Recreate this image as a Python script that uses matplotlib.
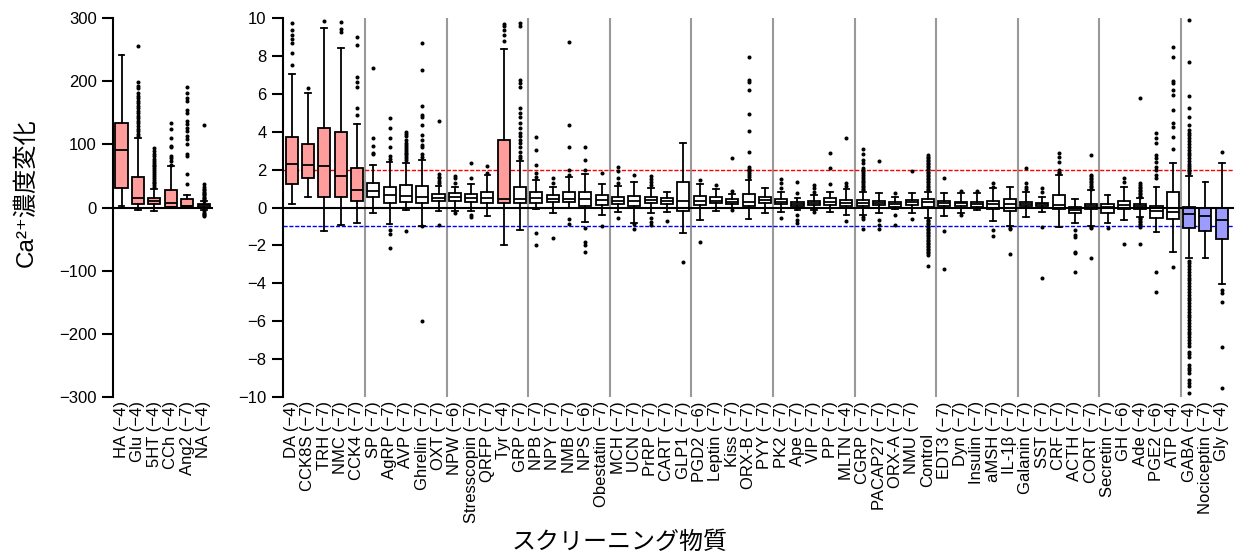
import matplotlib
matplotlib.use("Agg")
import matplotlib.pyplot as plt

plt.rcParams['font.family'] = ['Liberation Sans', 'DejaVu Sans']

# --- classical transmitters (left panel, scale +-300) ---
LEFT_NAMES = ["HA", "Glu", "5HT", "CCh", "Ang2", "NA"]
LEFT_CONC = [-4, -4, -4, -4, -7, -4]
LEFT_Q1 = [30.5, 6.3, 5.3, 1.0, 1.6, 1.0]
LEFT_MED = [91, 15.8, 10, 7.4, 2.6, 3.2]
LEFT_Q3 = [133, 48.4, 15.3, 28, 13, 5.3]
LEFT_WLO = [1.6, -3.7, -5.3, 1.0, 1.6, -4.2]
LEFT_WHI = [242, 109.5, 29, 66, 20.5, 10.5]
LEFT_FLIERS = [
    [],
    [113, 117, 121, 125, 129, 133, 137, 141, 145, 149, 153, 157, 161, 165,
     169, 173, 177, 181, 189, 192, 198, 255],
    [32, 35, 38, 41, 44, 47, 50, 53, 56, 59, 62, 65, 68, 71, 74, 77, 81, 85,
     89, 94],
    [68, 74, 79, 82, 95, 97, 110, 124, 133],
    [37, 53, 82, 84, 100, 108, 113, 121, 126, 132, 137, 150, 155, 168, 174,
     182, 190],
    [11, 13, 15, 17, 19, 21, 23, 25, 27, 29, 32, 37, 130, -6, -8, -10, -12,
     -13],
]

# --- screening compounds (right panel, scale +-10) ---
RIGHT_NAMES = [
    "DA", "CCK8S", "TRH", "NMC", "CCK4", "SP", "AgRP", "AVP", "Ghrelin", "OXT",
    "NPW", "Stresscopin", "QRFP", "Tyr", "GRP", "NPB", "NPY", "NMB", "NPS",
    "Obestatin", "MCH", "UCN", "PrRP", "CART", "GLP1", "PGD2", "Leptin", "Kiss",
    "ORX-B", "PYY", "PK2", "Ape", "VIP", "PP", "MLTN", "CGRP", "PACAP27",
    "ORX-A", "NMU", "Control", "EDT3", "Dyn", "Insulin", "aMSH", "IL-1β",
    "Galanin", "SST", "CRF", "ACTH", "CORT", "Secretin", "GH", "Ade", "PGE2",
    "ATP", "GABA", "Nociceptin", "Gly",
]
RIGHT_CONC = [
    -4, -7, -7, -7, -7, -7, -7, -7, -7, -7,
    -6, -7, -7, -4, -7, -7, -7, -7, -6, -7,
    -7, -7, -7, -7, -7, -6, -7, -7, -7, -7,
    -7, -7, -7, -7, -4, -7, -7, -7, -7, None,
    -7, -7, -7, -7, -7, -7, -7, -7, -7, -7,
    -7, -6, -4, -6, -4, -4, -7, -4,
]
RIGHT_Q1 = [
    1.22, 1.56, 0.55, 0.55, 0.36, 0.54, 0.22, 0.31, 0.22, 0.34,
    0.33, 0.29, 0.26, 0.26, 0.22, 0.26, 0.29, 0.27, 0.08, 0.13,
    0.17, 0.08, 0.22, 0.18, -0.18, 0.13, 0.22, 0.20, 0.10, 0.22,
    0.17, 0.08, 0.13, 0.13, 0.08, 0.08, 0.11, 0.03, 0.13, 0.04,
    0.08, 0.08, 0.04, -0.10, -0.18, 0.08, 0.08, -0.10, -0.31, -0.08,
    -0.27, -0.10, -0.06, -0.57, -0.62, -1.10, -1.24, -1.68,
]
RIGHT_MED = [
    2.30, 2.24, 2.21, 1.68, 0.92, 0.89, 0.68, 0.59, 0.55, 0.52,
    0.55, 0.52, 0.50, 0.45, 0.45, 0.50, 0.47, 0.43, 0.47, 0.40,
    0.34, 0.33, 0.38, 0.33, 0.36, 0.36, 0.36, 0.31, 0.27, 0.40,
    0.29, 0.18, 0.26, 0.31, 0.26, 0.26, 0.26, 0.17, 0.27, 0.27,
    0.26, 0.22, 0.18, 0.18, 0.17, 0.18, 0.17, 0.13, -0.13, 0.08,
    0.01, 0.13, 0.08, -0.18, -0.22, -0.34, -0.43, -0.66,
]
RIGHT_Q3 = [
    3.73, 3.36, 4.18, 3.99, 2.07, 1.28, 1.10, 1.20, 1.15, 0.69,
    0.78, 0.69, 0.80, 3.56, 1.10, 0.80, 0.66, 0.80, 0.80, 0.66,
    0.57, 0.61, 0.54, 0.48, 1.36, 0.62, 0.54, 0.43, 0.71, 0.57,
    0.43, 0.31, 0.36, 0.48, 0.40, 0.38, 0.34, 0.29, 0.40, 0.43,
    0.36, 0.31, 0.31, 0.36, 0.43, 0.31, 0.26, 0.66, 0.01, 0.17,
    0.18, 0.36, 0.18, 0.10, 0.80, 0.04, 0.00, -0.04,
]
RIGHT_WLO = [
    0.17, 0.55, -1.26, -0.92, -0.80, -0.31, -0.85, -0.13, -0.96, -0.18,
    -0.18, -0.18, -0.43, -1.96, -1.19, -0.10, -0.31, -0.04, -0.75, -0.41,
    -0.24, -0.80, -0.27, -0.24, -1.36, -0.66, -0.18, -0.04, -0.61, -0.27,
    -0.22, -0.13, -0.13, -0.22, -0.40, -0.40, -0.27, -0.10, -0.27, -0.57,
    -0.45, -0.31, -0.13, -0.69, -0.98, -0.48, -0.22, -1.01, -0.80, -0.98,
    -0.80, -0.66, -0.48, -1.28, -2.33, -2.68, -2.68, -4.04,
]
RIGHT_WHI = [
    7.06, 6.04, 9.47, 8.42, 4.41, 2.23, 2.40, 2.37, 2.49, 1.12,
    1.10, 1.26, 1.71, 8.35, 2.47, 1.45, 1.10, 1.63, 1.77, 1.24,
    1.13, 1.36, 1.03, 0.83, 3.39, 1.22, 0.99, 0.69, 1.45, 1.05,
    0.83, 0.48, 0.66, 0.80, 0.96, 0.83, 0.75, 0.57, 0.75, 0.83,
    0.75, 0.75, 0.75, 1.01, 1.10, 0.83, 0.57, 1.71, 0.45, 0.92,
    0.66, 1.10, 0.48, 1.10, 2.36, 1.68, 1.33, 2.33,
]
RIGHT_FLIERS = [
    [7.5, 8.15, 8.68, 8.9, 9.1, 9.38, 9.76],                         # DA
    [6.31],                                                           # CCK8S
    [9.86],                                                           # TRH
    [9.28, 9.4, 9.77],                                                # NMC
    [4.89, 5.24, 6.38, 6.64, 6.87, 8.58, 8.98],                       # CCK4
    [2.8, 2.86, 3.27, 3.65, 7.35],                                    # SP
    [2.55, 2.72, 3.2, 3.65, 4.2, 4.7, -1.21, -1.38, -2.12],           # AgRP
    [2.5, 2.6, 2.7, 2.8, 2.9, 3.0, 3.1, 3.2, 3.3, 3.4, 3.57, 3.75,
     3.88, 4.0, -1.24],                                               # AVP
    [2.69, 2.83, 3.2, 3.3, 3.57, 3.83, 4.36, 4.76, 4.88, 5.36, 7.26,
     8.7, -0.98, -6.0],                                               # Ghrelin
    [1.28, 1.42, 1.55, 1.63, 1.75, 4.58, -0.92],                      # OXT
    [1.3, 1.56, 1.66, -0.31],                                         # NPW
    [1.57, 2.33, -0.4, -0.48],                                        # Stresscopin
    [1.8, 2.2],                                                       # QRFP
    [8.76, 9.12, 9.38, 9.56, 9.7],                                    # Tyr
    [2.6, 2.72, 2.95, 3.21, 3.4, 3.56, 3.75, 3.91, 4.18, 4.44, 4.8,
     4.97, 5.24, 6.35, 6.56, 6.73, 9.56, 9.74],                       # GRP
    [1.6, 1.8, 2.25, 3.05, 3.72, -1.36, -1.98],                       # NPB
    [1.28, 1.54, -1.63],                                              # NPY
    [1.7, 1.98, 3.2, 4.35, 8.72, -0.6, -0.87],                        # NMB
    [2.0, 2.5, 3.17, -1.1, -1.8, -1.98, -2.33],                       # NPS
    [1.8, -0.98],                                                     # Obestatin
    [1.28, 1.54, 1.94, 2.12, -0.57],                                  # MCH
    [1.71, -0.89, -1.13],                                             # UCN
    [1.19, 1.36, 1.49, 1.68, -0.57, -0.78, -0.92],                    # PrRP
    [-0.69],                                                          # CART
    [-2.89],                                                          # GLP1
    [1.45, -1.8],                                                     # PGD2
    [1.17],                                                           # Leptin
    [0.87, 2.6, -0.13],                                               # Kiss
    [1.63, 1.72, 1.8, 1.9, 1.98, 2.05, 2.15, 2.95, 4.06, 4.92, 6.2,
     6.64, 6.73, 7.96],                                               # ORX-B
    [],                                                               # PYY
    [1.05, 1.28, 1.49, -0.57],                                        # PK2
    [0.75, 1.33, -0.4, -0.66, -0.84],                                 # Ape
    [0.84, 1.01, 1.19, -0.22],                                        # VIP
    [1.22, 2.07, 2.89],                                               # PP
    [1.13, 1.28, 3.69, -0.71],                                        # MLTN
    [0.92, 1.0, 1.08, 1.16, 1.24, 1.32, 1.4, 1.5, 1.6, 1.7, 1.8, 1.9,
     2.0, 2.1, 2.33, 2.5, 2.8, 3.09, -0.5, -0.6, -1.13],              # CGRP
    [2.46, -0.66, -0.92, -1.13],                                      # PACAP27
    [0.75, -0.4, -0.92],                                              # ORX-A
    [1.95, -0.61],                                                    # NMU
    [0.92, 1.0, 1.08, 1.16, 1.24, 1.32, 1.4, 1.48, 1.56, 1.64, 1.72,
     1.8, 1.88, 1.96, 2.04, 2.12, 2.2, 2.28, 2.36, 2.44, 2.52, 2.6,
     2.68, 2.77, -0.65, -0.73, -0.81, -0.89, -0.97, -1.05, -1.13,
     -1.21, -1.29, -1.37, -1.45, -1.53, -1.61, -1.69, -1.77, -1.85,
     -1.93, -2.01, -2.09, -2.17, -2.25, -2.33, -2.41, -2.5, -3.09],   # Control
    [1.54, -1.24, -3.27],                                             # EDT3
    [0.85, -0.4],                                                     # Dyn
    [0.85],                                                           # Insulin
    [1.1, 1.28, -1.19, -1.5],                                         # aMSH
    [-1.06, -1.15, -2.47],                                            # IL-1b
    [0.95, 1.1, 1.31, 2.07],                                          # Galanin
    [0.84, 1.01, -1.01, -3.74],                                       # SST
    [1.8, 1.88, 1.96, 2.42, 2.68, 2.89],                              # CRF
    [-1.19, -1.45, -1.54, -2.33, -2.38, -3.39],                       # ACTH
    [1.0, 1.08, 1.16, 1.24, 1.32, 1.4, 1.48, 1.56, 1.64, 1.72, 2.77,
     -1.05, -1.1, -2.65],                                             # CORT
    [-1.06],                                                          # Secretin
    [1.36, 1.57, -1.94],                                              # GH
    [0.55, 0.62, 0.7, 0.78, 0.86, 0.94, 1.02, 1.1, 1.2, 1.3, 5.76,
     -0.55, -0.62, -0.7, -0.78, -0.86, -0.94, -1.02, -1.94],          # Ade
    [1.54, 1.72, 1.98, 2.16, 2.42, 2.6, 2.77, 3.39, 3.65, 3.91,
     -3.39, -4.44],                                                   # PGE2
    [3.09, 3.74, 4.27, 4.44, 5.15, 5.94, 6.2, 6.56, 6.68, 7.96, 8.49,
     -3.12],                                                          # ATP
    [1.8, 1.9, 2.0, 2.1, 2.2, 2.3, 2.45, 2.6, 2.75, 2.9, 3.05, 3.2,
     3.35, 3.5, 3.65, 3.8, 3.95, 4.1, 4.36, 4.8, 5.24, 5.86, 7.7, 9.9,
     -2.8, -2.95, -3.1, -3.25, -3.4, -3.55, -3.7, -3.85, -4.0, -4.15,
     -4.3, -4.45, -4.6, -4.75, -4.9, -5.05, -5.2, -5.35, -5.5, -5.65,
     -5.8, -5.95, -6.1, -6.25, -6.4, -6.55, -6.7, -6.85, -7.0, -7.15,
     -7.3, -7.6, -7.75, -7.9, -8.3, -8.45, -8.6, -8.75, -9.1, -9.25,
     -9.4, -9.8],                                                     # GABA
    [],                                                               # Nociceptin
    [2.95, -4.36, -4.49, -4.97, -7.35, -9.5],                         # Gly
]

UP_RESPONDERS = {"HA", "Glu", "5HT", "CCh", "Ang2", "NA",
                 "DA", "CCK8S", "TRH", "NMC", "CCK4", "Tyr"}
DOWN_RESPONDERS = {"GABA", "Nociceptin", "Gly"}
UP_COLOR = "#ff9c9c"
DOWN_COLOR = "#9c9cff"

JP_FONT = ['Noto Sans CJK JP', 'DejaVu Sans']
LABEL_FONT = ['Liberation Sans', 'Noto Sans CJK JP', 'DejaVu Sans']
TICK_FS = 12


def tick_label(name, conc):
    # unlabelled concentration (control) is written separately, see below
    if conc is None:
        return ""
    return f"{name} (\u2212{abs(conc)})"


def draw_boxes(ax, names, conc, q1, med, q3, wlo, whi, fliers):
    stats = [dict(q1=a, med=b, q3=c, whislo=d, whishi=e, fliers=f)
             for a, b, c, d, e, f in zip(q1, med, q3, wlo, whi, fliers)]
    pos = list(range(1, len(names) + 1))
    line = dict(color="black", linewidth=1.3)
    bp = ax.bxp(stats, positions=pos, widths=0.74, capwidths=0.36,
                patch_artist=True, manage_ticks=False,
                boxprops=dict(edgecolor="black", linewidth=1.3),
                medianprops=line, whiskerprops=line, capprops=line,
                flierprops=dict(marker="o", markersize=1.9, markerfacecolor="black",
                                markeredgecolor="black", linestyle="none"),
                zorder=2)
    for patch, n in zip(bp["boxes"], names):
        if n in UP_RESPONDERS:
            patch.set_facecolor(UP_COLOR)
        elif n in DOWN_RESPONDERS:
            patch.set_facecolor(DOWN_COLOR)
        else:
            patch.set_facecolor("white")

    ax.axhline(0, color="black", linewidth=1.5, zorder=3)
    ax.set_xticks(pos)
    ax.set_xticklabels([tick_label(n, c) for n, c in zip(names, conc)],
                       rotation=90, va="top", ha="center", fontsize=TICK_FS)
    ax.tick_params(axis="x", length=0, pad=3)
    ax.tick_params(axis="y", length=8, width=1.5, labelsize=12, pad=4)
    for s in ("top", "right", "bottom"):
        ax.spines[s].set_visible(False)
    ax.spines["left"].set_linewidth(1.5)

    # names without a concentration sit lower, aligned with the other names
    for p, n, c in zip(pos, names, conc):
        if c is None:
            ax.annotate(n, xy=(p, 0), xycoords=ax.get_xaxis_transform(),
                        xytext=(0, -26), textcoords="offset points",
                        rotation=90, va="top", ha="center", fontsize=TICK_FS)


fig = plt.figure(figsize=(12.34, 5.59), dpi=100)

ax_l = fig.add_axes([0.0918, 0.2898, 0.0806, 0.678])
draw_boxes(ax_l, LEFT_NAMES, LEFT_CONC, LEFT_Q1, LEFT_MED, LEFT_Q3,
           LEFT_WLO, LEFT_WHI, LEFT_FLIERS)
ax_l.set_xlim(0.5, 6.55)
ax_l.set_ylim(-300, 300)
ax_l.set_yticks(range(-300, 301, 100))

ax_r = fig.add_axes([0.2296, 0.2898, 0.7704, 0.678])
draw_boxes(ax_r, RIGHT_NAMES, RIGHT_CONC, RIGHT_Q1, RIGHT_MED, RIGHT_Q3,
           RIGHT_WLO, RIGHT_WHI, RIGHT_FLIERS)
ax_r.set_xlim(0.49, 58.75)
ax_r.set_ylim(-10, 10)
ax_r.set_yticks(range(-10, 11, 2))

# group separators every five compounds
for x in range(5, len(RIGHT_NAMES), 5):
    ax_r.axvline(x + 0.5, color="#999999", linewidth=1.5, zorder=1)

# thresholds
ax_r.axhline(2, color="red", linewidth=1.0, dashes=(3, 1.2), zorder=1)
ax_r.axhline(-1, color="blue", linewidth=1.0, dashes=(3, 1.2), zorder=1)

fig.text(0.021, 0.655, "Ca\u00b2\u207a濃度変化", rotation=90, fontsize=17.5,
         family=LABEL_FONT, ha="center", va="center")
fig.text(0.502, 0.030, "スクリーニング物質", fontsize=17.3, family=JP_FONT,
         ha="center", va="center")

fig.savefig("out.png", dpi=100)
